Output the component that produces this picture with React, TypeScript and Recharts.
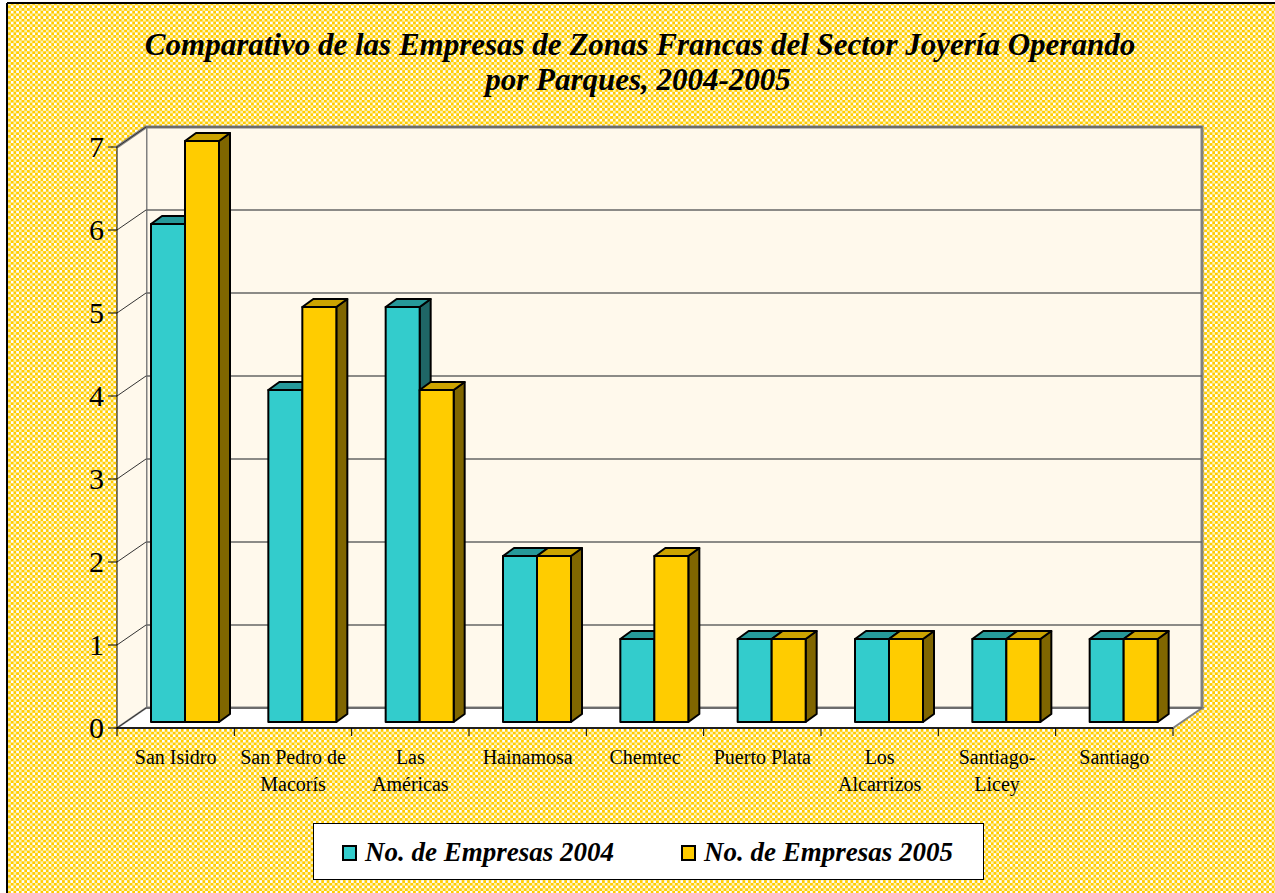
import React from "react";
import { BarChart, Bar, XAxis, YAxis, CartesianGrid } from "recharts";

const parks = [
  "San Isidro",
  "San Pedro de|Macorís",
  "Las|Américas",
  "Hainamosa",
  "Chemtec",
  "Puerto Plata",
  "Los|Alcarrizos",
  "Santiago-|Licey",
  "Santiago",
];
const empresas2004 = [6, 4, 5, 2, 1, 1, 1, 1, 1];
const empresas2005 = [7, 5, 4, 2, 2, 1, 1, 1, 1];
const yTicks = [0, 1, 2, 3, 4, 5, 6, 7];

const data = parks.map((p, i) => ({
  park: p,
  y2004: empresas2004[i],
  y2005: empresas2005[i],
}));

const W = 1275;
const H = 893;
const PLOT_L = 117;
const PLOT_R = 1173;
const PLOT_T = 147;
const PLOT_B = 728;
const DX = 29; // wall depth
const DY = 20;
const BAND = (PLOT_R - PLOT_L) / parks.length;
const SERIF = '"Liberation Serif", "Times New Roman", serif';

const WALL = "#FFF9EC";
const EDGE = "#808080";

const colors2004 = { front: "#33CCCC", top: "#269999", side: "#1F6666" };
const colors2005 = { front: "#FFCC00", top: "#CCA300", side: "#806600" };

// bars sit about a third into the depth of the floor
const BAR_DX = 9;
const BAR_DY = 6;
const TOP_DX = 11;
const TOP_DY = 8;

const makeBar = (c: { front: string; top: string; side: string }) => (props: any) => {
  const { x, y, width, height } = props;
  if (height == null || width == null) return null;
  const x0 = x + BAR_DX;
  const y0 = y - BAR_DY;
  const w = width;
  const h = height;
  return (
    <g stroke="#000" strokeWidth={2} strokeLinejoin="round">
      <polygon
        points={`${x0 + w},${y0} ${x0 + w + TOP_DX},${y0 - TOP_DY} ${x0 + w + TOP_DX},${y0 + h - TOP_DY} ${x0 + w},${y0 + h}`}
        fill={c.side}
      />
      <polygon
        points={`${x0},${y0} ${x0 + TOP_DX},${y0 - TOP_DY} ${x0 + w + TOP_DX},${y0 - TOP_DY} ${x0 + w},${y0}`}
        fill={c.top}
      />
      <rect x={x0} y={y0} width={w} height={h} fill={c.front} />
    </g>
  );
};

const Bar2004 = makeBar(colors2004);
const Bar2005 = makeBar(colors2005);

const gridLine = (props: any) => {
  const { x1, y1, x2, index } = props;
  return (
    <g key={`g-${index}`}>
      <line x1={x1} y1={y1} x2={x1 + DX} y2={y1 - DY} stroke="#333" strokeWidth={1} />
      <line x1={x1 + DX} y1={y1 - DY} x2={x2 + DX} y2={y1 - DY} stroke="#666" strokeWidth={1.5} />
    </g>
  );
};

const XTick = (props: any) => {
  const { x, y, payload, index } = props;
  const lines = String(payload.value).split("|");
  const left = x - BAND / 2;
  return (
    <g>
      <line x1={left} y1={PLOT_B} x2={left} y2={PLOT_B + 8} stroke="#000" />
      {index === parks.length - 1 && (
        <line x1={x + BAND / 2} y1={PLOT_B} x2={x + BAND / 2} y2={PLOT_B + 8} stroke="#000" />
      )}
      <text x={x} y={y + 28} textAnchor="middle" fontFamily={SERIF} fontSize={20} fill="#000">
        {lines.map((l, i) => (
          <tspan key={i} x={x} dy={i === 0 ? 0 : 27}>
            {l}
          </tspan>
        ))}
      </text>
    </g>
  );
};

const YTick = (props: any) => {
  const { x, y, payload } = props;
  return (
    <text x={x - 2} y={y + 10} textAnchor="end" fontFamily={SERIF} fontSize={30} fill="#000">
      {payload.value}
    </text>
  );
};

function Background() {
  const bx = PLOT_L + DX;
  const by = PLOT_T - DY;
  const bb = PLOT_B - DY;
  const br = PLOT_R + DX;
  return (
    <svg width={W} height={H} style={{ position: "absolute", left: 0, top: 0 }}>
      <defs>
        <pattern id="checks" patternUnits="userSpaceOnUse" width={5.4} height={5.4}>
          <rect width={5.4} height={5.4} fill="#FFCC00" />
          <rect x={0} y={0} width={2.7} height={2.7} fill="#FFFFFF" />
          <rect x={2.7} y={2.7} width={2.7} height={2.7} fill="#FFF2B0" />
        </pattern>
      </defs>
      <rect x={0} y={0} width={W} height={H} fill="#fff" />
      <rect x={7} y={3} width={W} height={H} fill="url(#checks)" />
      <line x1={7} y1={3} x2={W} y2={3} stroke="#000" strokeWidth={2} />
      <line x1={7} y1={3} x2={7} y2={H} stroke="#000" strokeWidth={2} />
      {/* back wall */}
      <rect x={bx} y={by} width={br - bx} height={bb - by} fill={WALL} stroke={EDGE} strokeWidth={3} />
      {/* left wall */}
      <polygon
        points={`${PLOT_L},${PLOT_T} ${bx},${by} ${bx},${bb} ${PLOT_L},${PLOT_B}`}
        fill={WALL}
      />
      <line x1={PLOT_L} y1={PLOT_T} x2={bx} y2={by} stroke={EDGE} strokeWidth={3} />
      {/* floor */}
      <polygon
        points={`${PLOT_L},${PLOT_B} ${bx},${bb} ${br},${bb} ${PLOT_R},${PLOT_B}`}
        fill="#FFFFFF"
        stroke={EDGE}
        strokeWidth={2}
      />
      <text x={640} y={55} textAnchor="middle" fontFamily={SERIF} fontSize={31} fontWeight="bold" fontStyle="italic">
        Comparativo de las Empresas de Zonas Francas del Sector Joyería Operando
      </text>
      <text x={638} y={90} textAnchor="middle" fontFamily={SERIF} fontSize={31} fontWeight="bold" fontStyle="italic">
        por Parques, 2004-2005
      </text>
    </svg>
  );
}

function LegendBox() {
  const item = (color: string, label: string, left: number) => (
    <div style={{ position: "absolute", left, top: 0, height: 57, display: "flex", alignItems: "center" }}>
      <span
        style={{
          width: 11,
          height: 12,
          background: color,
          border: "2px solid #000",
          marginRight: 8,
          display: "inline-block",
        }}
      />
      <span style={{ fontFamily: SERIF, fontSize: 27, fontWeight: "bold", fontStyle: "italic", color: "#000" }}>
        {label}
      </span>
    </div>
  );
  return (
    <div
      style={{
        position: "absolute",
        left: 313,
        top: 823,
        width: 671,
        height: 57,
        background: "#fff",
        border: "1px solid #000",
        boxSizing: "border-box",
      }}
    >
      {item(colors2004.front, "No. de Empresas 2004", 28)}
      {item(colors2005.front, "No. de Empresas 2005", 367)}
    </div>
  );
}

export default function App() {
  return (
    <div style={{ position: "absolute", left: 0, top: 0, width: W, height: H, overflow: "hidden" }}>
      <Background />
      <div style={{ position: "absolute", left: 0, top: 0 }}>
        <BarChart
          width={W}
          height={H}
          data={data}
          margin={{ top: PLOT_T, right: W - PLOT_R, left: PLOT_L - 60, bottom: H - PLOT_B - 60 }}
          barGap={0}
          barSize={34}
        >
          <CartesianGrid horizontal={gridLine} vertical={false} />
          <XAxis
            dataKey="park"
            height={60}
            interval={0}
            tickLine={false}
            axisLine={{ stroke: "#000", strokeWidth: 1.5 }}
            tick={<XTick />}
          />
          <YAxis
            width={60}
            domain={[0, 7]}
            ticks={yTicks}
            interval={0}
            tickSize={9}
            tickLine={{ stroke: "#000" }}
            axisLine={{ stroke: "#000" }}
            tick={<YTick />}
          />
          <Bar dataKey="y2004" shape={Bar2004} isAnimationActive={false} />
          <Bar dataKey="y2005" shape={Bar2005} isAnimationActive={false} />
        </BarChart>
      </div>
      <LegendBox />
    </div>
  );
}
